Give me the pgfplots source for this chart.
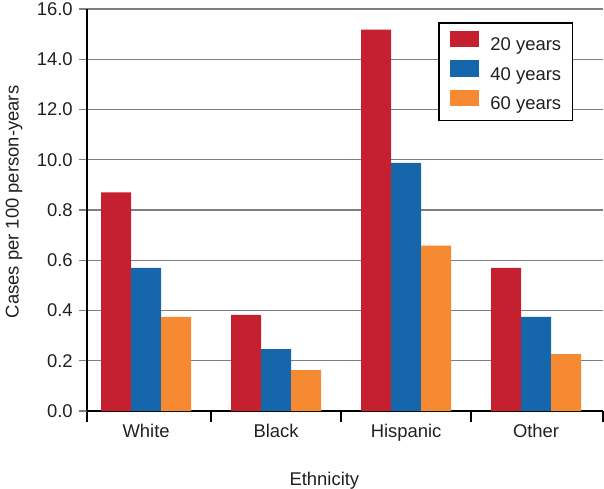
\documentclass[border=0pt]{standalone}
\usepackage{pgfplots}
\pgfplotsset{compat=1.18}
\usepackage{fontspec}
\setmainfont{Liberation Sans}
\definecolor{cred}{HTML}{C4202F}
\definecolor{cblue}{HTML}{1566AA}
\definecolor{corange}{HTML}{F58A32}
\definecolor{ctext}{HTML}{231F20}
\definecolor{cgrid}{HTML}{7F7F7F}
\begin{document}
\fontsize{18.5}{22}\selectfont
\begin{tikzpicture}
\useasboundingbox (-87bp,-78bp) rectangle (517bp,411bp);
\begin{axis}[
  at={(0,0)}, anchor=south west,
  scale only axis, width=516bp, height=402bp,
  xmin=-0.455, xmax=3.515, ymin=0, ymax=8,
  axis lines=left,
  axis line style={-, line width=1.3bp, black},
  ybar=0pt, bar width=30bp,
  legend image code/.code={\fill[#1] (0bp,-1.6bp) rectangle (29bp,14.8bp);},
  xtick={0,1,2,3},
  xticklabels={White,Black,Hispanic,Other},
  minor xtick={-0.455,0.5,1.5,2.5,3.515},
  ytick={0,1,2,3,4,5,6,7,8},
  yticklabels={0.0,0.2,0.4,0.6,0.8,10.0,12.0,14.0,16.0},
  tick align=outside,
  major tick length=8bp, minor tick length=10.5bp,
  major x tick style={draw=none},
  minor x tick style={line width=1.3bp, black},
  y tick style={line width=1.2bp, cgrid},
  ymajorgrids,
  grid style={line width=1.2bp, cgrid},
  tick label style={font=\fontsize{18.5}{22}\selectfont, text=ctext},
  xticklabel style={yshift=1.5bp},
  /pgf/number format/assume math mode=true,
  xlabel={Ethnicity},
  ylabel={Cases per 100 person-years},
  every axis x label/.style={at={(axis description cs:0.46,0)}, yshift=-70bp, anchor=center, font=\fontsize{18.5}{22}\selectfont, text=ctext},
  every axis y label/.style={at={(axis description cs:0,0.52)}, xshift=-73bp, rotate=90, anchor=center, font=\fontsize{18.5}{22}\selectfont, text=ctext},
  legend cell align=left,
  legend style={at={(0.9424,0.967)}, anchor=north east, draw=black, line width=1.3bp,
    fill=white, font=\fontsize{18.5}{22}\selectfont, text=ctext,
    inner xsep=11.5bp, inner ysep=8bp, row sep=6.8bp,
    nodes={inner sep=0pt},
    /tikz/every odd column/.append style={column sep=11bp}},
]
\addplot[fill=cred, draw=none] coordinates {(0,4.35) (1,1.915) (2,7.59) (3,2.85)};
\addplot[fill=cblue, draw=none] coordinates {(0,2.85) (1,1.23) (2,4.94) (3,1.875)};
\addplot[fill=corange, draw=none] coordinates {(0,1.875) (1,0.815) (2,3.29) (3,1.13)};
\legend{20 years,40 years,60 years}
\end{axis}
\end{tikzpicture}
\end{document}
